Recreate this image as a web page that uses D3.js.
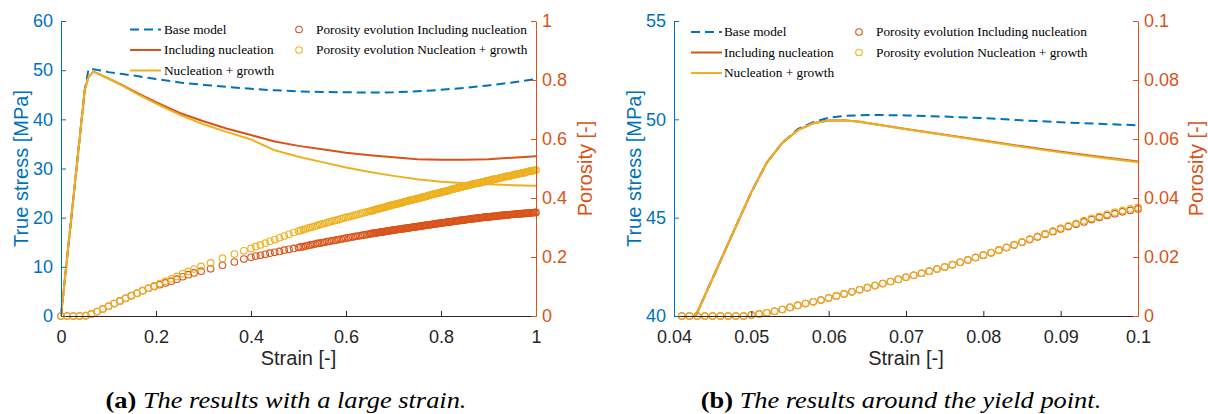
<!DOCTYPE html>
<html>
<head>
<meta charset="utf-8">
<script src="https://cdn.jsdelivr.net/npm/d3@7"></script>
<style>
  body { margin: 0; background: #fff; }
  svg { display: block; }
</style>
</head>
<body>
<svg id="fig" width="1208" height="414"></svg>
<script>
// ---------- (a) large strain: stress curves ----------
const strainA = [0, 0.05, 0.058, 0.068, 0.08, 0.1, 0.13, 0.16, 0.2, 0.25, 0.3, 0.35, 0.4, 0.45,
  0.5, 0.55, 0.6, 0.65, 0.7, 0.75, 0.8, 0.85, 0.9, 0.95, 1];
const baseA = [0, 46, 50.2, 50.2, 50.0, 49.6, 49.2, 48.8, 48.2, 47.5, 47.0, 46.6, 46.2, 45.9,
  45.7, 45.55, 45.5, 45.45, 45.5, 45.7, 46.0, 46.4, 46.9, 47.5, 48.2];
const nuclA = [0, 46, 48.6, 49.7, 49.2, 48.3, 46.9, 45.4, 43.5, 41.3, 39.6, 38.1, 36.8, 35.5,
  34.6, 33.9, 33.2, 32.7, 32.3, 31.9, 31.8, 31.8, 31.9, 32.2, 32.5];
const growthA = [0, 46, 48.6, 49.7, 49.2, 48.3, 46.8, 45.2, 43.2, 40.9, 39.0, 37.4, 35.9, 33.7,
  32.4, 31.3, 30.2, 29.3, 28.5, 27.8, 27.3, 27.0, 26.8, 26.6, 26.5];

// ---------- (a) large strain: porosity at each output step ----------
const poroStrainA = [0, 0.013, 0.026, 0.039, 0.052, 0.064, 0.076, 0.088, 0.1, 0.112,
  0.124, 0.136, 0.148, 0.16, 0.172, 0.184, 0.196, 0.208, 0.22, 0.232,
  0.244, 0.256, 0.268, 0.28, 0.295, 0.315, 0.34, 0.365, 0.385, 0.4,
  0.41, 0.42, 0.43, 0.44, 0.45, 0.46, 0.47, 0.48, 0.49, 0.5,
  0.505, 0.51, 0.515, 0.52, 0.525, 0.53, 0.535, 0.54, 0.545, 0.55,
  0.555, 0.56, 0.565, 0.57, 0.575, 0.58, 0.585, 0.59, 0.595, 0.6,
  0.605, 0.61, 0.615, 0.62, 0.625, 0.63, 0.635, 0.64, 0.645, 0.65,
  0.6525, 0.655, 0.6575, 0.66, 0.6625, 0.665, 0.6675, 0.67, 0.6725, 0.675,
  0.6775, 0.68, 0.6825, 0.685, 0.6875, 0.69, 0.6925, 0.695, 0.6975, 0.7,
  0.7025, 0.705, 0.7075, 0.71, 0.7125, 0.715, 0.7175, 0.72, 0.7225, 0.725,
  0.7275, 0.73, 0.7325, 0.735, 0.7375, 0.74, 0.7425, 0.745, 0.7475, 0.75,
  0.7525, 0.755, 0.7575, 0.76, 0.7625, 0.765, 0.7675, 0.77, 0.7725, 0.775,
  0.7775, 0.78, 0.7825, 0.785, 0.7875, 0.79, 0.7925, 0.795, 0.7975, 0.8,
  0.8025, 0.805, 0.8075, 0.81, 0.8125, 0.815, 0.8175, 0.82, 0.8225, 0.825,
  0.8275, 0.83, 0.8325, 0.835, 0.8375, 0.84, 0.8425, 0.845, 0.8475, 0.85,
  0.8525, 0.855, 0.8575, 0.86, 0.8625, 0.865, 0.8675, 0.87, 0.8725, 0.875,
  0.8775, 0.88, 0.8825, 0.885, 0.8875, 0.89, 0.8925, 0.895, 0.8975, 0.9,
  0.9025, 0.905, 0.9075, 0.91, 0.9125, 0.915, 0.9175, 0.92, 0.9225, 0.925,
  0.9275, 0.93, 0.9325, 0.935, 0.9375, 0.94, 0.9425, 0.945, 0.9475, 0.95,
  0.9525, 0.955, 0.9575, 0.96, 0.9625, 0.965, 0.9675, 0.97, 0.9725, 0.975,
  0.9775, 0.98, 0.9825, 0.985, 0.9875, 0.99, 0.9925, 0.995, 0.9975, 1];
const poroNuclA = [0, 0, 0, 0, 0.001, 0.007, 0.015, 0.024, 0.033, 0.042,
  0.051, 0.06, 0.069, 0.077, 0.086, 0.094, 0.1, 0.106, 0.112, 0.118,
  0.125, 0.133, 0.14, 0.146, 0.152, 0.16, 0.172, 0.183, 0.193, 0.199,
  0.203, 0.206, 0.209, 0.213, 0.216, 0.219, 0.223, 0.226, 0.229, 0.232,
  0.234, 0.235, 0.237, 0.239, 0.241, 0.242, 0.244, 0.246, 0.247, 0.249,
  0.25, 0.252, 0.253, 0.255, 0.256, 0.258, 0.259, 0.261, 0.262, 0.264,
  0.265, 0.267, 0.268, 0.27, 0.271, 0.272, 0.274, 0.275, 0.277, 0.278,
  0.279, 0.28, 0.28, 0.281, 0.281, 0.282, 0.283, 0.283, 0.284, 0.285,
  0.285, 0.286, 0.287, 0.287, 0.288, 0.289, 0.289, 0.29, 0.29, 0.291,
  0.292, 0.292, 0.293, 0.294, 0.294, 0.295, 0.295, 0.296, 0.296, 0.297,
  0.298, 0.298, 0.299, 0.299, 0.3, 0.301, 0.301, 0.302, 0.302, 0.303,
  0.304, 0.304, 0.305, 0.305, 0.306, 0.307, 0.307, 0.308, 0.308, 0.309,
  0.31, 0.31, 0.311, 0.311, 0.312, 0.313, 0.313, 0.314, 0.314, 0.315,
  0.316, 0.316, 0.317, 0.317, 0.318, 0.318, 0.319, 0.319, 0.32, 0.321,
  0.321, 0.322, 0.322, 0.323, 0.323, 0.324, 0.324, 0.325, 0.325, 0.326,
  0.327, 0.327, 0.328, 0.328, 0.329, 0.329, 0.33, 0.33, 0.331, 0.331,
  0.332, 0.332, 0.333, 0.333, 0.334, 0.334, 0.335, 0.335, 0.336, 0.336,
  0.336, 0.337, 0.337, 0.338, 0.338, 0.339, 0.339, 0.339, 0.34, 0.34,
  0.341, 0.341, 0.341, 0.342, 0.342, 0.343, 0.343, 0.343, 0.344, 0.344,
  0.345, 0.345, 0.345, 0.346, 0.346, 0.346, 0.347, 0.347, 0.347, 0.348,
  0.348, 0.348, 0.349, 0.349, 0.349, 0.35, 0.35, 0.35, 0.351, 0.351];
const poroGrowthA = [0, 0, 0, 0, 0.001, 0.007, 0.015, 0.024, 0.033, 0.042,
  0.051, 0.06, 0.069, 0.077, 0.086, 0.094, 0.102, 0.11, 0.118, 0.126,
  0.134, 0.143, 0.151, 0.159, 0.168, 0.18, 0.196, 0.21, 0.221, 0.229,
  0.235, 0.241, 0.247, 0.253, 0.259, 0.265, 0.271, 0.277, 0.283, 0.288,
  0.29, 0.293, 0.295, 0.298, 0.3, 0.302, 0.305, 0.307, 0.31, 0.312,
  0.314, 0.316, 0.319, 0.321, 0.323, 0.325, 0.327, 0.33, 0.332, 0.334,
  0.336, 0.338, 0.34, 0.342, 0.344, 0.347, 0.349, 0.351, 0.353, 0.355,
  0.356, 0.357, 0.358, 0.359, 0.361, 0.362, 0.363, 0.364, 0.365, 0.366,
  0.367, 0.368, 0.369, 0.37, 0.372, 0.373, 0.374, 0.375, 0.376, 0.377,
  0.378, 0.379, 0.38, 0.381, 0.382, 0.383, 0.384, 0.385, 0.387, 0.388,
  0.389, 0.39, 0.391, 0.392, 0.393, 0.394, 0.395, 0.396, 0.397, 0.398,
  0.399, 0.4, 0.401, 0.402, 0.403, 0.404, 0.405, 0.406, 0.408, 0.409,
  0.41, 0.411, 0.412, 0.413, 0.414, 0.415, 0.416, 0.417, 0.418, 0.419,
  0.42, 0.421, 0.422, 0.423, 0.424, 0.425, 0.426, 0.427, 0.429, 0.43,
  0.431, 0.432, 0.433, 0.434, 0.435, 0.436, 0.437, 0.438, 0.439, 0.44,
  0.441, 0.442, 0.443, 0.444, 0.445, 0.446, 0.447, 0.448, 0.449, 0.45,
  0.45, 0.451, 0.452, 0.453, 0.454, 0.455, 0.456, 0.457, 0.458, 0.459,
  0.46, 0.461, 0.462, 0.463, 0.464, 0.464, 0.465, 0.466, 0.467, 0.468,
  0.469, 0.47, 0.471, 0.472, 0.473, 0.473, 0.474, 0.475, 0.476, 0.477,
  0.478, 0.479, 0.48, 0.481, 0.482, 0.482, 0.483, 0.484, 0.485, 0.486,
  0.487, 0.488, 0.489, 0.49, 0.491, 0.491, 0.492, 0.493, 0.494, 0.495];

// ---------- (b) around the yield point: stress curves ----------
const strainB = [0.0428, 0.044, 0.046, 0.048, 0.05, 0.052, 0.054, 0.056, 0.058, 0.06,
  0.062, 0.064, 0.066, 0.07, 0.075, 0.08, 0.085, 0.09, 0.095, 0.1];
const baseB = [40, 41.05, 42.8, 44.55, 46.3, 47.8, 48.8, 49.5, 49.85, 50.08,
  50.17, 50.21, 50.22, 50.2, 50.14, 50.06, 49.95, 49.85, 49.77, 49.7];
const nuclB = [40, 41.05, 42.8, 44.55, 46.3, 47.8, 48.8, 49.45, 49.8, 49.94,
  49.95, 49.88, 49.75, 49.51, 49.22, 48.92, 48.63, 48.35, 48.1, 47.86];
const growthB = [40, 41.05, 42.8, 44.55, 46.3, 47.8, 48.8, 49.45, 49.8, 49.94,
  49.95, 49.88, 49.75, 49.5, 49.2, 48.9, 48.6, 48.32, 48.06, 47.82];

// ---------- (b) around the yield point: porosity at each output step ----------
const poroStrainB = [0.041, 0.042, 0.043, 0.044, 0.045, 0.046, 0.047, 0.048, 0.049,
  0.05, 0.051, 0.052, 0.053, 0.054, 0.055, 0.056, 0.057, 0.058, 0.059,
  0.06, 0.061, 0.062, 0.063, 0.064, 0.065, 0.066, 0.067, 0.068, 0.069,
  0.07, 0.071, 0.072, 0.073, 0.074, 0.075, 0.076, 0.077, 0.078, 0.079,
  0.08, 0.081, 0.082, 0.083, 0.084, 0.085, 0.086, 0.087, 0.088, 0.089,
  0.09, 0.091, 0.092, 0.093, 0.094, 0.095, 0.096, 0.097, 0.098, 0.099, 0.1];
const poroNuclB = [0, 0, 0, 0, 0, 0, 0, 0, 0,
  0.0003, 0.0007, 0.0011, 0.0016, 0.0022, 0.0029, 0.0036, 0.0042, 0.0048, 0.0054,
  0.0061, 0.0068, 0.0075, 0.0082, 0.0089, 0.0096, 0.0103, 0.011, 0.0117, 0.0124,
  0.0131, 0.0138, 0.0145, 0.0152, 0.0159, 0.0166, 0.0174, 0.0182, 0.019, 0.0198,
  0.0206, 0.0214, 0.0223, 0.0232, 0.0241, 0.025, 0.0259, 0.0268, 0.0277, 0.0286,
  0.0295, 0.0303, 0.0311, 0.0319, 0.0327, 0.0334, 0.0341, 0.0347, 0.0353, 0.0358, 0.0363];
const poroGrowthB = [0, 0, 0, 0, 0, 0, 0, 0, 0,
  0.0003, 0.0007, 0.0011, 0.0016, 0.0022, 0.0029, 0.0036, 0.0042, 0.0048, 0.0054,
  0.0061, 0.0068, 0.0075, 0.0082, 0.0089, 0.0096, 0.0103, 0.011, 0.0117, 0.0124,
  0.0131, 0.0138, 0.0145, 0.0152, 0.0159, 0.0166, 0.0174, 0.0182, 0.019, 0.0199,
  0.0207, 0.0215, 0.0224, 0.0233, 0.0242, 0.0251, 0.0261, 0.027, 0.0279, 0.0288,
  0.0298, 0.0306, 0.0314, 0.0323, 0.0331, 0.0338, 0.0345, 0.0352, 0.0358, 0.0363, 0.0368];

// ---------- ticks and texts ----------
const xTicksA = [0, 0.2, 0.4, 0.6, 0.8, 1];
const yTicksA = [0, 10, 20, 30, 40, 50, 60];
const y2TicksA = [0, 0.2, 0.4, 0.6, 0.8, 1];
const xTicksB = [0.04, 0.05, 0.06, 0.07, 0.08, 0.09, 0.1];
const yTicksB = [40, 45, 50, 55];
const y2TicksB = [0, 0.02, 0.04, 0.06, 0.08, 0.1];

const seriesNames = ["Base model", "Including nucleation", "Nucleation + growth",
  "Porosity evolution Including nucleation", "Porosity evolution Nucleation + growth"];
const xLabel = "Strain [-]";
const yLabel = "True stress [MPa]";
const y2Label = "Porosity [-]";
const captionTags = ["(a)", "(b)"];
const captionTexts = [" The results with a large strain.", " The results around the yield point."];

// ---------- styling ----------
const C_BLUE = "#0072BD", C_RED = "#D95319", C_YEL = "#EDB120", C_AX = "#262626";
const SANS = "'Liberation Sans', Arial, Helvetica, sans-serif";
const SERIF = "'Liberation Serif', 'Times New Roman', serif";
const TOP = 21, BOTTOM = 316;

const svg = d3.select("#fig");
svg.append("rect").attr("width", 1208).attr("height", 414).attr("fill", "#fff");

const panels = [
  {
    left: 61, right: 536, xDomain: [0, 1], yDomain: [0, 60], y2Domain: [0, 1],
    xTicks: xTicksA, yTicks: yTicksA, y2Ticks: y2TicksA,
    strain: strainA, base: baseA, nucl: nuclA, growth: growthA,
    pStrain: poroStrainA, pNucl: poroNuclA, pGrowth: poroGrowthA,
    leg: { lx0: 69, lx1: 100, tx: 103, mx: 238, tx2: 255, rows: [33.5, 54, 74.5] },
    y2LabelGap: 56, capCenter: 286
  },
  {
    left: 674, right: 1138, xDomain: [0.04, 0.1], yDomain: [40, 55], y2Domain: [0, 0.1],
    xTicks: xTicksB, yTicks: yTicksB, y2Ticks: y2TicksB,
    strain: strainB, base: baseB, nucl: nuclB, growth: growthB,
    pStrain: poroStrainB, pNucl: poroNuclB, pGrowth: poroGrowthB,
    leg: { lx0: 17, lx1: 48, tx: 50, mx: 185, tx2: 202, rows: [36, 56.5, 77] },
    y2LabelGap: 65, capCenter: 901
  }
];

const fmt = d3.format("~g");

panels.forEach((p, i) => {
  const x = d3.scaleLinear().domain(p.xDomain).range([p.left, p.right]);
  const y = d3.scaleLinear().domain(p.yDomain).range([BOTTOM, TOP]);
  const y2 = d3.scaleLinear().domain(p.y2Domain).range([BOTTOM, TOP]);
  const g = svg.append("g");

  // stress-strain curves (left axis)
  const line = d3.line().x(d => x(d[0])).y(d => y(d[1]));
  const pts = arr => p.strain.map((s, k) => [s, arr[k]]);
  g.append("path").attr("d", line(pts(p.base))).attr("fill", "none")
    .attr("stroke", C_BLUE).attr("stroke-width", 2).attr("stroke-dasharray", "9,5");
  g.append("path").attr("d", line(pts(p.nucl))).attr("fill", "none")
    .attr("stroke", C_RED).attr("stroke-width", 2).attr("stroke-linejoin", "round");
  g.append("path").attr("d", line(pts(p.growth))).attr("fill", "none")
    .attr("stroke", C_YEL).attr("stroke-width", 2).attr("stroke-linejoin", "round");

  // porosity markers (right axis)
  const drawMarkers = (vals, color) => {
    g.append("g").selectAll("circle")
      .data(p.pStrain.map((s, k) => [s, vals[k]]))
      .join("circle")
      .attr("cx", d => x(d[0])).attr("cy", d => y2(d[1])).attr("r", 3.3)
      .attr("fill", "none").attr("stroke", color).attr("stroke-width", 1.1);
  };
  drawMarkers(p.pNucl, C_RED);
  drawMarkers(p.pGrowth, C_YEL);

  // axes
  const ax = g.append("g").attr("transform", `translate(0,${BOTTOM})`)
    .call(d3.axisBottom(x).tickValues(p.xTicks).tickFormat(fmt)
      .tickSizeInner(-5).tickSizeOuter(0).tickPadding(14));
  ax.select(".domain").attr("stroke", C_AX);
  ax.selectAll(".tick line").attr("stroke", C_AX);
  ax.selectAll("text").attr("fill", C_AX).style("font-family", SANS).style("font-size", "18px");

  const ayl = g.append("g").attr("transform", `translate(${p.left},0)`)
    .call(d3.axisLeft(y).tickValues(p.yTicks).tickFormat(fmt)
      .tickSizeInner(-5).tickSizeOuter(0).tickPadding(8));
  ayl.select(".domain").attr("stroke", C_BLUE);
  ayl.selectAll(".tick line").attr("stroke", C_BLUE);
  ayl.selectAll("text").attr("fill", C_BLUE).style("font-family", SANS).style("font-size", "18px");

  const ayr = g.append("g").attr("transform", `translate(${p.right},0)`)
    .call(d3.axisRight(y2).tickValues(p.y2Ticks).tickFormat(fmt)
      .tickSizeInner(-5).tickSizeOuter(0).tickPadding(6));
  ayr.select(".domain").attr("stroke", C_RED);
  ayr.selectAll(".tick line").attr("stroke", C_RED);
  ayr.selectAll("text").attr("fill", C_RED).style("font-family", SANS).style("font-size", "18px");

  // axis titles
  const midX = (p.left + p.right) / 2, midY = (TOP + BOTTOM) / 2;
  g.append("text").attr("x", midX).attr("y", 365).attr("text-anchor", "middle")
    .attr("fill", C_AX).style("font-family", SANS).style("font-size", "20px").text(xLabel);
  g.append("text").attr("transform", `translate(${p.left - 33.5},${midY}) rotate(-90)`)
    .attr("text-anchor", "middle").attr("fill", C_BLUE)
    .style("font-family", SANS).style("font-size", "20px").text(yLabel);
  g.append("text").attr("transform", `translate(${p.right + p.y2LabelGap},${midY}) rotate(-90)`)
    .attr("text-anchor", "middle").attr("fill", C_RED)
    .style("font-family", SANS).style("font-size", "20px").text(y2Label);

  // legend
  const L = p.leg, lg = g.append("g").style("font-family", SERIF).style("font-size", "13.3px");
  const lineStyles = [
    { c: C_BLUE, dash: "9,5" }, { c: C_RED, dash: null }, { c: C_YEL, dash: null }
  ];
  lineStyles.forEach((st, k) => {
    const yy = L.rows[k] - 4;
    lg.append("line").attr("x1", p.left + L.lx0).attr("x2", p.left + L.lx1)
      .attr("y1", yy).attr("y2", yy).attr("stroke", st.c).attr("stroke-width", 2)
      .attr("stroke-dasharray", st.dash);
    lg.append("text").attr("x", p.left + L.tx).attr("y", L.rows[k])
      .attr("fill", "#000").text(seriesNames[k]);
  });
  [C_RED, C_YEL].forEach((c, k) => {
    lg.append("circle").attr("cx", p.left + L.mx).attr("cy", L.rows[k] - 4).attr("r", 3.3)
      .attr("fill", "none").attr("stroke", c).attr("stroke-width", 1.1);
    lg.append("text").attr("x", p.left + L.tx2).attr("y", L.rows[k])
      .attr("fill", "#000").text(seriesNames[3 + k]);
  });

  // caption (sub-figure label bold, description italic)
  const cap = svg.append("text")
    .attr("transform", `translate(${p.capCenter},408) scale(1.1,1)`)
    .attr("text-anchor", "middle").style("font-family", SERIF).style("font-size", "24px")
    .attr("fill", "#000");
  cap.append("tspan").style("font-weight", "bold").text(captionTags[i]);
  cap.append("tspan").style("font-style", "italic").text(captionTexts[i]);
});
</script>
</body>
</html>
